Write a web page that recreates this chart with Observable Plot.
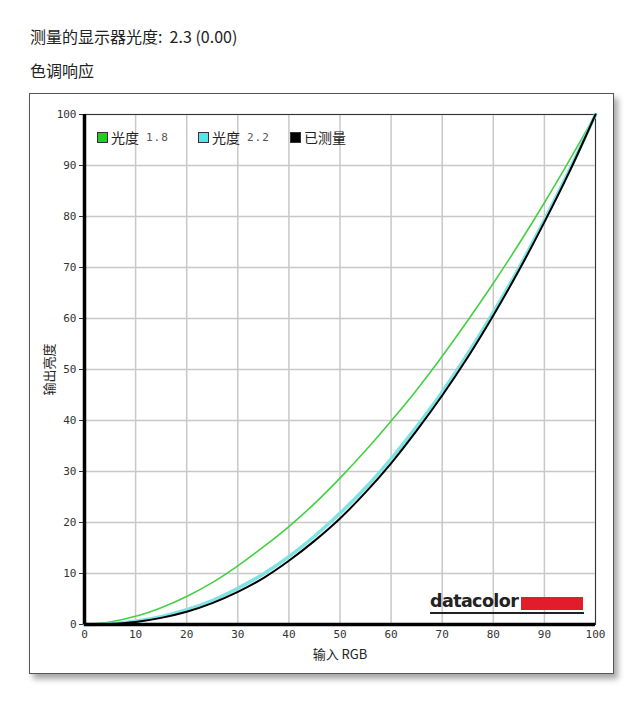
<!DOCTYPE html>
<html><head><meta charset="utf-8">
<script src="https://cdn.jsdelivr.net/npm/d3@7"></script>
<script src="https://cdn.jsdelivr.net/npm/@observablehq/plot@0.6"></script>
<style>
body{margin:0;background:#fff;font-family:"Noto Sans CJK SC","Noto Sans",sans-serif;}
.h{position:absolute;left:30px;font-size:16px;color:#222;}
#frame{position:absolute;left:29px;top:93px;width:583px;height:579px;border:1px solid #555;background:#fff;box-shadow:4px 5px 6px rgba(0,0,0,0.35);}
#legend{position:absolute;left:67px;top:33px;font-size:14px;color:#222;white-space:nowrap;}
#legend span.item{position:absolute;top:0;display:inline-flex;align-items:center;}
#legend i{display:inline-block;width:9px;height:9px;border:1px solid #333;margin-right:3px;}
#legend b{font-weight:normal;font-family:"DejaVu Sans Mono",monospace;font-size:11px;color:#555;margin-left:7px;letter-spacing:1px;}
#logo{position:absolute;left:400px;top:496px;width:154px;height:22px;border-bottom:2px solid #222;}
#logo .t{position:absolute;left:0;top:1px;font-family:"DejaVu Sans",sans-serif;font-weight:bold;font-size:17.5px;letter-spacing:-0.6px;color:#222;line-height:20px;}
#logo .r{position:absolute;left:91px;top:7px;width:62px;height:13px;background:#e31c2c;}
</style></head>
<body>
<div class="h" style="top:24px">测量的显示器光度:&nbsp; 2.3 (0.00)</div>
<div class="h" style="top:58px">色调响应</div>
<div id="frame"><div id="chart"></div>
<div id="legend">
<span class="item" style="left:0"><i style="background:#22cc22"></i>光度<b>1.8</b></span>
<span class="item" style="left:101px"><i style="background:#55e6e6"></i>光度<b>2.2</b></span>
<span class="item" style="left:193px"><i style="background:#000"></i>已测量</span>
</div>
<div id="logo"><span class="t">datacolor</span><span class="r"></span></div>
</div>
<script>
const inputs = [0,5,10,15,20,25,30,35,40,45,50,55,60,65,70,75,80,85,90,95,100];
const gamma18 = [0,0.5,1.6,3.3,5.5,8.2,11.5,15.2,19.2,23.7,28.7,34.1,39.9,46.0,52.6,59.6,66.9,74.6,82.7,91.2,100];
const gamma22 = [0,0.15,0.65,1.55,2.9,4.7,7.1,9.9,13.3,17.3,21.8,26.8,32.5,38.8,45.6,53.1,61.2,69.9,79.3,89.3,100];
const measured = [0,0.1,0.5,1.3,2.5,4.2,6.4,9.1,12.5,16.4,20.8,25.9,31.6,38.0,44.9,52.4,60.6,69.4,78.9,89.0,100];
const ticks = [0,10,20,30,40,50,60,70,80,90,100];

const rows = (ys) => inputs.map((x,i)=>({x, y: ys[i]}));

const chart = Plot.plot({
  width: 583, height: 579,
  marginLeft: 54, marginRight: 18, marginTop: 20, marginBottom: 49,
  style: {fontFamily: "DejaVu Sans Mono, monospace", fontSize: "11px", color: "#333", background: "transparent"},
  x: {domain: [0,100], ticks},
  y: {domain: [0,100], ticks},
  marks: [
    Plot.gridX(ticks, {stroke: "#c8c8c8", strokeOpacity: 1, strokeWidth: 1.5}),
    Plot.gridY(ticks, {stroke: "#c8c8c8", strokeOpacity: 1, strokeWidth: 1.5}),
    Plot.frame({stroke: "#333", strokeWidth: 1}),
    Plot.axisX({ticks, tickSize: 0, tickPadding: 6, label: "输入 RGB", labelAnchor: "center", labelArrow: "none", labelOffset: 34}),
    Plot.axisY({ticks, tickSize: 5, tickPadding: 3, label: "输出亮度", labelAnchor: "center", labelArrow: "none", labelOffset: 40}),
    Plot.line(rows(gamma18), {x: "x", y: "y", stroke: "#44d044", strokeWidth: 1.6, curve: "catmull-rom"}),
    Plot.line(rows(gamma22), {x: "x", y: "y", stroke: "#7fe3e3", strokeWidth: 3.5, curve: "catmull-rom"}),
    Plot.line(rows(measured), {x: "x", y: "y", stroke: "#000", strokeWidth: 2, curve: "catmull-rom"}),
    Plot.ruleX([0], {stroke: "#000", strokeWidth: 3.5}),
    Plot.ruleY([0], {stroke: "#000", strokeWidth: 3.5})
  ]
});
document.getElementById("chart").appendChild(chart);
chart.querySelectorAll('g[aria-label$="axis label"] text').forEach(t => {
  t.style.fontFamily = '"Noto Sans CJK SC", sans-serif';
  t.style.fontSize = "13px";
  t.style.fill = "#222";
});
</script>
</body></html>
